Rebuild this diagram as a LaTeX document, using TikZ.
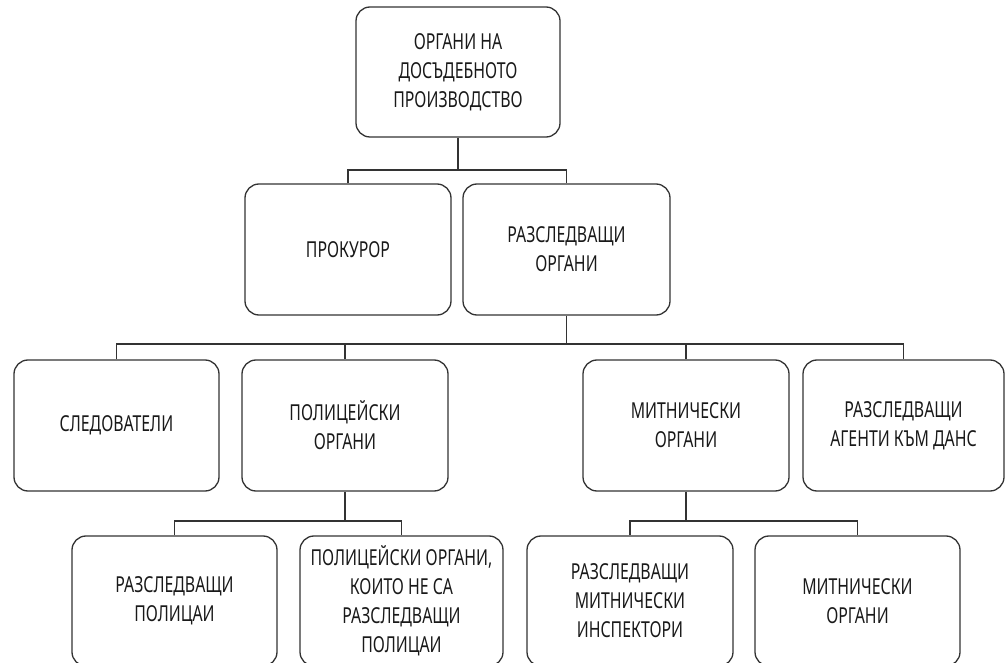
\documentclass[tikz,border=0pt]{standalone}
\usepackage{fontspec}
\setmainfont[Language=Bulgarian,FakeStretch=0.72]{Noto Sans}
\begin{document}
\begin{tikzpicture}[x=1pt,y=-1pt,
  box/.style={draw=black!80, line width=1.3pt, rounded corners=14pt, align=center,
    inner sep=2pt, text=black!90, font=\fontsize{22}{29}\selectfont,
    minimum height=131pt},
  conn/.style={draw=black!80, line width=1.3pt}]
\useasboundingbox (0,0) rectangle (1005,663);
\clip (0,0) rectangle (1005,663);
\node[box, minimum width=204pt, minimum height=130pt] (top) at (458,72) {ОРГАНИ НА\\ДОСЪДЕБНОТО\\ПРОИЗВОДСТВО};
\node[box, minimum width=206pt] (pros) at (348,249.5) {ПРОКУРОР};
\node[box, minimum width=207pt] (razorg) at (566.5,249.5) {РАЗСЛЕДВАЩИ\\ОРГАНИ};
\node[box, minimum width=205pt] (sled) at (116.5,425.5) {СЛЕДОВАТЕЛИ};
\node[box, minimum width=206pt] (polorg) at (345,425.5) {ПОЛИЦЕЙСКИ\\ОРГАНИ};
\node[box, minimum width=206pt] (mitorg) at (686,425.5) {МИТНИЧЕСКИ\\ОРГАНИ};
\node[box, minimum width=201pt] (agenti) at (903.5,425.5) {РАЗСЛЕДВАЩИ\\АГЕНТИ КЪМ ДАНС};
\node[box, minimum width=205pt, minimum height=130pt] (razpol) at (174.5,601) {РАЗСЛЕДВАЩИ\\ПОЛИЦАИ};
\node[box, minimum width=203pt, minimum height=130pt] (polne) at (401.5,601) {ПОЛИЦЕЙСКИ ОРГАНИ,\\КОИТО НЕ СА\\РАЗСЛЕДВАЩИ\\ПОЛИЦАИ};
\node[box, minimum width=206pt, minimum height=130pt] (mitinsp) at (630,601) {РАЗСЛЕДВАЩИ\\МИТНИЧЕСКИ\\ИНСПЕКТОРИ};
\node[box, minimum width=205pt, minimum height=130pt] (mitorg2) at (857.5,601) {МИТНИЧЕСКИ\\ОРГАНИ};
% level 1
\coordinate (j1) at (458,170);
\draw[conn] (top.south) -- (j1);
\draw[conn] (pros.north) |- (j1) -| (razorg.north);
% level 2
\coordinate (j2) at (566.5,344);
\draw[conn] (razorg.south) -- (j2);
\draw[conn] (sled.north) |- (j2) -| (agenti.north);
\draw[conn] (polorg.north) -- (polorg.north |- j2);
\draw[conn] (mitorg.north) -- (mitorg.north |- j2);
% level 3
\coordinate (j3) at (345,521);
\draw[conn] (polorg.south) -- (j3);
\draw[conn] (razpol.north) |- (j3) -| (polne.north);
\coordinate (j4) at (686,521);
\draw[conn] (mitorg.south) -- (j4);
\draw[conn] (mitinsp.north) |- (j4) -| (mitorg2.north);
\end{tikzpicture}
\end{document}
